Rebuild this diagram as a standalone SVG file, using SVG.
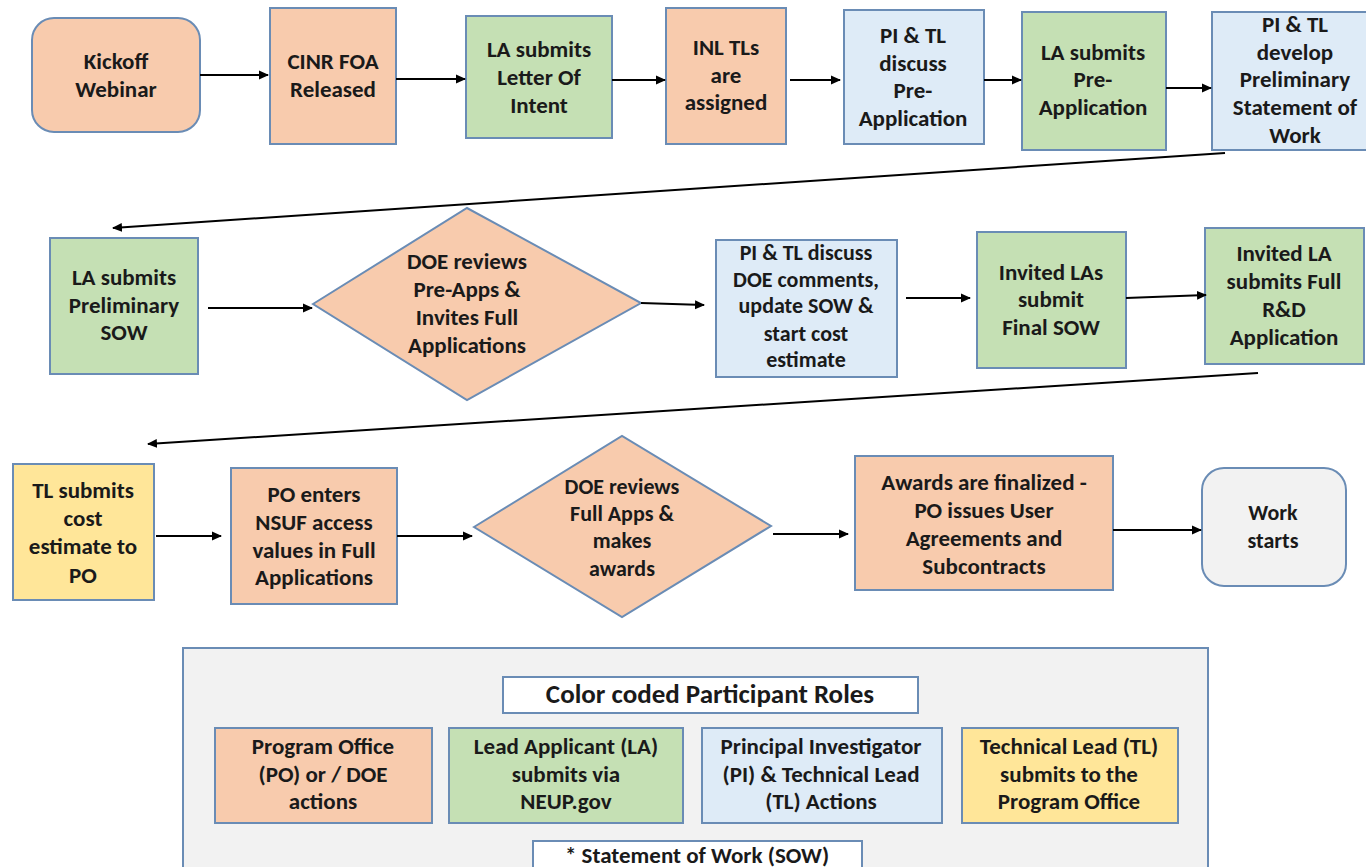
<svg xmlns="http://www.w3.org/2000/svg" width="1366" height="867" viewBox="0 0 1366 867">
<defs>
<marker id="ah" markerWidth="10" markerHeight="10" refX="9" refY="5" orient="auto" markerUnits="userSpaceOnUse">
<path d="M0,0.5 L10,5 L0,9.5 Z" fill="#000"/>
</marker>
<style>
.po{fill:#F8CBAD;stroke:#6A8CB5;stroke-width:2}
.la{fill:#C5E0B4;stroke:#6A8CB5;stroke-width:2}
.pi{fill:#DEEBF7;stroke:#6A8CB5;stroke-width:2}
.tl{fill:#FFE699;stroke:#6A8CB5;stroke-width:2}
.gr{fill:#F2F2F2;stroke:#6A8CB5;stroke-width:2}
.wh{fill:#FFFFFF;stroke:#6A8CB5;stroke-width:2}
text{font-family:Carlito,"Liberation Sans Narrow","Liberation Sans",sans-serif;font-weight:bold;font-size:23px;fill:#1a1a1a;text-anchor:middle}
.s{font-size:22px}
.c line{stroke:#000;stroke-width:2;marker-end:url(#ah)}
</style>
</defs>
<rect width="1366" height="867" fill="#fff"/>

<g id="n1"><rect class="po" x="32" y="18" width="168" height="114" rx="22"/><text x="116" y="69">Kickoff</text><text x="116" y="97">Webinar</text></g>
<g id="n2"><rect class="po" x="270" y="8" width="126" height="136"/><text x="333" y="69">CINR FOA</text><text x="333" y="97">Released</text></g>
<g id="n3"><rect class="la" x="466" y="16" width="146" height="122"/><text x="539" y="57">LA submits</text><text x="539" y="85">Letter Of</text><text x="539" y="113">Intent</text></g>
<g id="n4"><rect class="po" x="666" y="8" width="120" height="136"/><text x="726" y="55">INL TLs</text><text x="726" y="83">are</text><text x="726" y="110">assigned</text></g>
<g id="n5"><rect class="pi" x="844" y="10" width="140" height="134"/><text x="913" y="43">PI &amp; TL</text><text x="913" y="71">discuss</text><text x="913" y="98">Pre-</text><text x="913" y="126">Application</text></g>
<g id="n6"><rect class="la" x="1022" y="12" width="144" height="138"/><text x="1093" y="60">LA submits</text><text x="1093" y="87">Pre-</text><text x="1093" y="115">Application</text></g>
<g id="n7"><rect class="pi" x="1212" y="12" width="160" height="138"/><text x="1295" y="32">PI &amp; TL</text><text x="1295" y="60">develop</text><text x="1295" y="87">Preliminary</text><text x="1295" y="115">Statement of</text><text x="1295" y="143">Work</text></g>

<g id="n8"><rect class="la" x="50" y="238" width="148" height="136"/><text x="124" y="285">LA submits</text><text x="124" y="313">Preliminary</text><text x="124" y="340">SOW</text></g>
<g id="n9"><polygon class="po" points="313,304 467,208 641,303 467,400"/><text x="467" y="269">DOE reviews</text><text x="467" y="297">Pre-Apps &amp;</text><text x="467" y="325">Invites Full</text><text x="467" y="353">Applications</text></g>
<g id="n10"><rect class="pi" x="716" y="240" width="181" height="137"/><text class="s" x="806" y="260">PI &amp; TL discuss</text><text class="s" x="806" y="287">DOE comments,</text><text class="s" x="806" y="313">update SOW &amp;</text><text class="s" x="806" y="341">start cost</text><text class="s" x="806" y="367">estimate</text></g>
<g id="n11"><rect class="la" x="977" y="232" width="149" height="136"/><text x="1051" y="280">Invited LAs</text><text x="1051" y="307">submit</text><text x="1051" y="335">Final SOW</text></g>
<g id="n12"><rect class="la" x="1205" y="228" width="159" height="136"/><text x="1284" y="261">Invited LA</text><text x="1284" y="289">submits Full</text><text x="1284" y="317">R&amp;D</text><text x="1284" y="345">Application</text></g>

<g id="n13"><rect class="tl" x="13" y="464" width="141" height="136"/><text x="83" y="498">TL submits</text><text x="83" y="526">cost</text><text x="83" y="554">estimate to</text><text x="83" y="583">PO</text></g>
<g id="n14"><rect class="po" x="231" y="468" width="166" height="136"/><text x="314" y="502">PO enters</text><text x="314" y="530">NSUF access</text><text x="314" y="558">values  in Full</text><text x="314" y="585">Applications</text></g>
<g id="n15"><polygon class="po" points="474,527 622,436 771,526 622,617"/><text class="s" x="622" y="494">DOE reviews</text><text class="s" x="622" y="521">Full Apps &amp;</text><text class="s" x="622" y="548">makes</text><text class="s" x="622" y="576">awards</text></g>
<g id="n16"><rect class="po" x="855" y="456" width="258" height="134"/><text x="984" y="490">Awards are finalized -</text><text x="984" y="518">PO issues User</text><text x="984" y="546">Agreements and</text><text x="984" y="574">Subcontracts</text></g>
<g id="n17"><rect class="gr" x="1202" y="468" width="144" height="118" rx="22"/><text class="s" x="1273" y="520">Work</text><text class="s" x="1273" y="548">starts</text></g>

<g id="connectors" class="c">
<line x1="200" y1="75" x2="268" y2="75"/>
<line x1="396" y1="79" x2="465" y2="79"/>
<line x1="612" y1="80" x2="665" y2="80"/>
<line x1="790" y1="80" x2="840" y2="80"/>
<line x1="984" y1="80" x2="1021" y2="80"/>
<line x1="1166" y1="88" x2="1211" y2="88"/>
<line x1="1225" y1="153" x2="113" y2="228"/>
<line x1="208" y1="308" x2="312" y2="308"/>
<line x1="641" y1="303" x2="704" y2="305"/>
<line x1="906" y1="298" x2="970" y2="298"/>
<line x1="1126" y1="298" x2="1206" y2="295"/>
<line x1="1258" y1="373" x2="148" y2="444"/>
<line x1="156" y1="536" x2="221" y2="536"/>
<line x1="397" y1="536" x2="472" y2="536"/>
<line x1="773" y1="534" x2="848" y2="534"/>
<line x1="1113" y1="530" x2="1201" y2="530"/>
</g>

<g id="legend">
<rect class="gr" x="183" y="648" width="1025" height="230"/>
<rect class="wh" x="503" y="677" width="415" height="36"/>
<text x="710" y="703" style="font-size:27px">Color coded Participant Roles</text>
<rect class="po" x="215" y="728" width="217" height="95"/><text x="323" y="754">Program Office</text><text x="323" y="782">(PO) or / DOE</text><text x="323" y="809">actions</text>
<rect class="la" x="449" y="728" width="234" height="95"/><text x="566" y="754">Lead Applicant (LA)</text><text x="566" y="782">submits via</text><text x="566" y="809">NEUP.gov</text>
<rect class="pi" x="702" y="728" width="240" height="95"/><text x="821" y="754">Principal Investigator</text><text x="821" y="782">(PI) &amp; Technical Lead</text><text x="821" y="809">(TL) Actions</text>
<rect class="tl" x="962" y="728" width="216" height="95"/><text x="1069" y="754">Technical Lead (TL)</text><text x="1069" y="782">submits to the</text><text x="1069" y="809">Program Office</text>
<rect class="wh" x="533" y="841" width="329" height="32"/>
<text x="697" y="863">* Statement of Work (SOW)</text>
</g>
</svg>
